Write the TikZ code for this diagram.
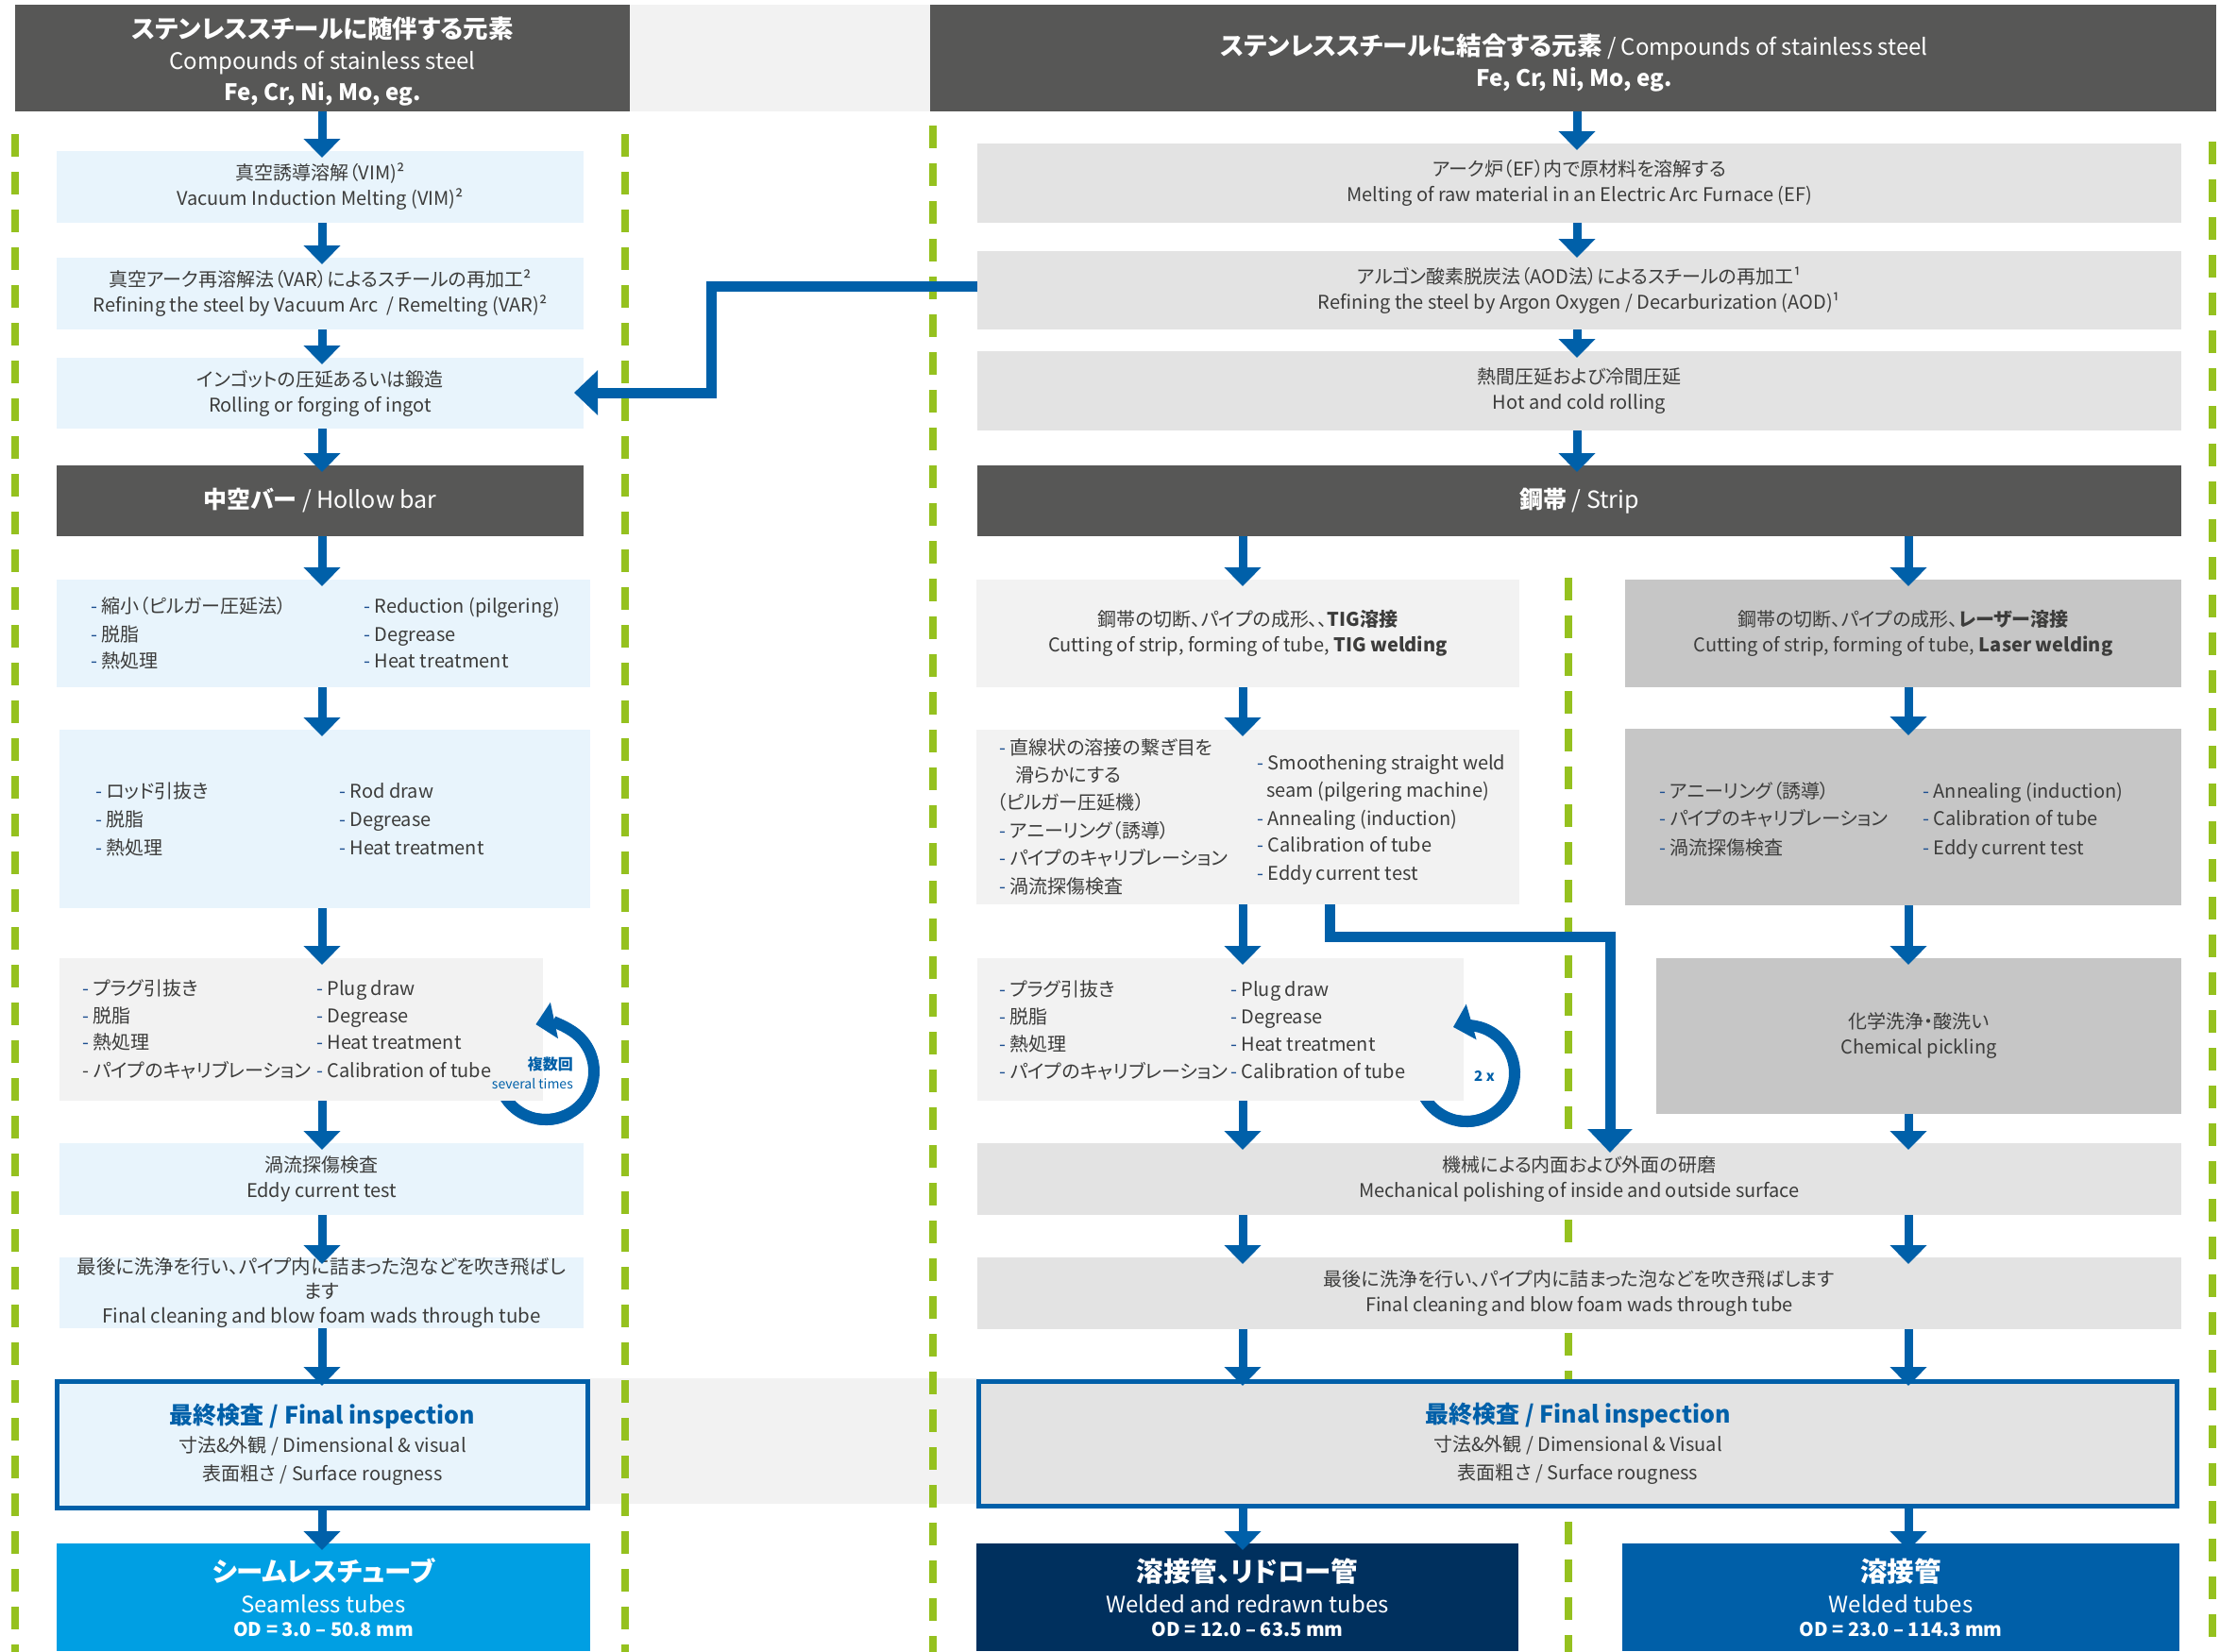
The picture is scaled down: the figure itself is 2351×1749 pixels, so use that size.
\documentclass[tikz,border=0pt]{standalone}
\usepackage{fontspec}
\setmainfont{Noto Sans CJK JP}[RawFeature=+palt]
\usetikzlibrary{arrows.meta}
\definecolor{hdr}{HTML}{575756}
\definecolor{band}{HTML}{F2F2F2}
\definecolor{lblue}{HTML}{E8F4FC}
\definecolor{gA}{HTML}{F2F2F2}
\definecolor{gB}{HTML}{E3E3E3}
\definecolor{gC}{HTML}{C6C6C6}
\definecolor{blu}{HTML}{0060A9}
\definecolor{grn}{HTML}{95C11F}
\definecolor{cyanA}{HTML}{009FE3}
\definecolor{navyA}{HTML}{00305E}
\definecolor{midA}{HTML}{005FA8}
\definecolor{txt}{HTML}{3C3C3B}
\definecolor{dshc}{HTML}{1D4F91}
\newcommand\fsz[2]{\fontsize{#1}{#2}\selectfont}
\newcommand\bdash{\textcolor{dshc}{-}\ }
\newcommand\hjp[1]{{\fsz{26.5}{33}\textbf{#1}}}
\begin{document}
\begin{tikzpicture}[x=1pt,y=-1pt,
  box/.style={inner sep=0pt, outer sep=0pt, align=center, text=txt, font=\fsz{20}{27}},
  dark/.style={box, fill=hdr, text=white, font=\fsz{25}{33}},
  htxt/.style={inner sep=0pt, align=center, text=white, font=\fsz{24}{33}},
  insp/.style={box, draw=blu, line width=5pt, outer sep=2.5pt, font=\fsz{20}{30}},
  prod/.style={box, text=white, font=\fsz{20}{25}},
  li/.style={anchor=base west, inner sep=0pt, text=txt, font=\fsz{20}{24}},
  arr/.style={draw=blu, line width=9pt, -{Triangle[width=38pt,length=20pt]}, shorten >=-7pt},
  bigarr/.style={draw=blu, line width=11pt, line join=miter, -{Triangle[width=46pt,length=25pt]}, shorten >=-10pt},
  gl/.style={draw=grn, line width=8pt, dash pattern=on 23.5pt off 16.5pt},
  loopa/.style={draw=blu, line width=12pt},
  loopb/.style={draw=blu, line width=12pt, -{Triangle[width=38pt,length=20pt]}},
]
\useasboundingbox (0,0) rectangle (2351,1749);
\fill[white] (0,0) rectangle (2351,1749);
% background bands
\fill[band] (667,5) rectangle (985,118);
\fill[band] (625,1460) rectangle (1035,1593);
% green dashed separators
\draw[gl] (16,142) -- (16,1760);
\draw[gl] (662,142) -- (662,1760);
\draw[gl] (988,133) -- (988,1760);
\draw[gl] (1661,612) -- (1661,1760);
\draw[gl] (2343,150) -- (2343,1760);
% hidden parts of loop arrows
\draw[loopa] (578,1135) ++(160:51) arc[start angle=160, end angle=60, radius=51];
\draw[loopa] (1553,1137) ++(160:51) arc[start angle=160, end angle=60, radius=51];

% ---------- left column ----------
\node[dark, minimum width=651pt, minimum height=113pt] (hdrL) at (341.5,61.5) {};
\node[htxt] (hdrLt) at (341.5,65)
  {\hjp{ステンレススチールに随伴する元素}\\Compounds of stainless steel\\\textbf{Fe, Cr, Ni, Mo, eg.}};
\node[box, fill=lblue, minimum width=558pt, minimum height=76pt] (vim) at (339,198)
  {真空誘導溶解（VIM)²\\Vacuum Induction Melting (VIM)²};
\node[box, fill=lblue, minimum width=558pt, minimum height=76pt] (var) at (339,311)
  {真空アーク再溶解法（VAR）によるスチールの再加工²\\Refining the steel by Vacuum Arc\ \ / Remelting (VAR)²};
\node[box, fill=lblue, minimum width=558pt, minimum height=75pt] (roll) at (339,416.5)
  {インゴットの圧延あるいは鍛造\\Rolling or forging of ingot};
\node[dark, minimum width=558pt, minimum height=75pt] (hollow) at (339,530.5)
  {\textbf{中空バー} / Hollow bar};
\node[box, fill=lblue, minimum width=565pt, minimum height=114pt] (red) at (342.5,671) {};
\node[box, fill=lblue, minimum width=562pt, minimum height=189pt] (rod) at (344,867.5) {};
\node[box, fill=gA, minimum width=512pt, minimum height=151pt] (plugL) at (319,1090.5) {};
\node[box, fill=lblue, minimum width=555pt, minimum height=76pt] (eddyL) at (340.5,1249)
  {渦流探傷検査\\Eddy current test};
\node[box, fill=lblue, minimum width=555pt, minimum height=75pt, font=\fsz{20.5}{26}] (cleanL) at (340.5,1369.5)
  {最後に洗浄を行い、パイプ内に詰まった泡などを吹き飛ばし\\ます\\Final cleaning and blow foam wads through tube};
\node[insp, fill=lblue, minimum width=562pt, minimum height=134pt] (inspL) at (341.5,1530.5)
  {\textcolor{blu}{\fsz{25}{30}\textbf{最終検査 / Final inspection}}\\寸法\&外観 / Dimensional \& visual\\表面粗さ / Surface rougness};
\node[prod, fill=cyanA, minimum width=565pt, minimum height=114pt] (seam) at (342.5,1692)
  {\fsz{28.5}{30}\textbf{シームレスチューブ}\\[8pt]\fsz{24}{28}Seamless tubes\\\textbf{OD = 3.0 – 50.8 mm}};

% ---------- right column ----------
\node[dark, minimum width=1362pt, minimum height=113pt] (hdrR) at (1666,61.5) {};
\node[htxt] (hdrRt) at (1667,67)
  {\hjp{ステンレススチールに結合する元素} / Compounds of stainless steel\\\textbf{Fe, Cr, Ni, Mo, eg.}};
\node[box, fill=gB, minimum width=1275pt, minimum height=84pt] (ef) at (1672.5,194)
  {アーク炉（EF）内で原材料を溶解する\\Melting of raw material in an Electric Arc Furnace (EF)};
\node[box, fill=gB, minimum width=1275pt, minimum height=83pt] (aod) at (1672.5,307.5)
  {アルゴン酸素脱炭法（AOD法）によるスチールの再加工¹\\Refining the steel by Argon Oxygen / Decarburization (AOD)¹};
\node[box, fill=gB, minimum width=1275pt, minimum height=84pt] (hot) at (1672.5,414)
  {熱間圧延および冷間圧延\\Hot and cold rolling};
\node[dark, minimum width=1275pt, minimum height=75pt] (strip) at (1672.5,530.5)
  {\textbf{鋼帯} / Strip};
\node[box, fill=gA, minimum width=575pt, minimum height=114pt] (tig) at (1321.5,671)
  {鋼帯の切断、パイプの成形、、\textbf{TIG溶接}\\Cutting of strip, forming of tube, \textbf{TIG welding}};
\node[box, fill=gC, minimum width=589pt, minimum height=114pt] (laser) at (2015.5,671)
  {鋼帯の切断、パイプの成形、\textbf{レーザー溶接}\\Cutting of strip, forming of tube, \textbf{Laser welding}};
\node[box, fill=gA, minimum width=575pt, minimum height=185pt] (smooth) at (1321.5,865.5) {};
\node[box, fill=gC, minimum width=589pt, minimum height=187pt] (anneal) at (2015.5,865.5) {};
\node[box, fill=gA, minimum width=515pt, minimum height=151pt] (plugR) at (1292.5,1090.5) {};
\node[box, fill=gC, minimum width=556pt, minimum height=165pt] (chem) at (2032,1097.5)
  {化学洗浄・酸洗い\\Chemical pickling};
\node[box, fill=gB, minimum width=1275pt, minimum height=76pt] (mech) at (1672.5,1249)
  {機械による内面および外面の研磨\\Mechanical polishing of inside and outside surface};
\node[box, fill=gB, minimum width=1275pt, minimum height=76pt] (cleanR) at (1672.5,1370)
  {最後に洗浄を行い、パイプ内に詰まった泡などを吹き飛ばします\\Final cleaning and blow foam wads through tube};
\node[insp, fill=gB, minimum width=1269pt, minimum height=132pt] (inspR) at (1671,1529.5)
  {\textcolor{blu}{\fsz{25}{30}\textbf{最終検査 / Final inspection}}\\寸法\&外観 / Dimensional \& Visual\\表面粗さ / Surface rougness};
\node[prod, fill=navyA, minimum width=574pt, minimum height=114pt] (wrd) at (1321,1692)
  {\fsz{28.5}{30}\textbf{溶接管、リドロー管}\\[8pt]\fsz{24}{28}Welded and redrawn tubes\\\textbf{OD = 12.0 – 63.5 mm}};
\node[prod, fill=midA, minimum width=590pt, minimum height=114pt] (wt) at (2013,1692)
  {\fsz{28.5}{30}\textbf{溶接管}\\[8pt]\fsz{24}{28}Welded tubes\\\textbf{OD = 23.0 – 114.3 mm}};

% ---------- list texts ----------
\node[li] (ra1) at (96,649) {\bdash 縮小（ピルガー圧延法）};
\node[li] (ra2) at (96,679) {\bdash 脱脂};
\node[li] (ra3) at (96,707) {\bdash 熱処理};
\node[li] (rb1) at (385,649) {\bdash Reduction (pilgering)};
\node[li] (rb2) at (385,679) {\bdash Degrease};
\node[li] (rb3) at (385,707) {\bdash Heat treatment};

\node[li] (da1) at (101,845) {\bdash ロッド引抜き};
\node[li] (da2) at (101,875) {\bdash 脱脂};
\node[li] (da3) at (101,905) {\bdash 熱処理};
\node[li] (db1) at (359,845) {\bdash Rod draw};
\node[li] (db2) at (359,875) {\bdash Degrease};
\node[li] (db3) at (359,905) {\bdash Heat treatment};

\node[li] (pa1) at (87,1054) {\bdash プラグ引抜き};
\node[li] (pa2) at (87,1083) {\bdash 脱脂};
\node[li] (pa3) at (87,1111) {\bdash 熱処理};
\node[li] (pa4) at (87,1141) {- パイプのキャリブレーション};
\node[li] (pb1) at (335,1054) {\bdash Plug draw};
\node[li] (pb2) at (335,1083) {\bdash Degrease};
\node[li] (pb3) at (335,1111) {\bdash Heat treatment};
\node[li] (pb4) at (335,1141) {\bdash Calibration of tube};

\node[li] (sa1) at (1058,799) {\bdash 直線状の溶接の繋ぎ目を};
\node[li] (sa2) at (1075,828) {滑らかにする};
\node[li] (sa3) at (1056,857) {（ピルガー圧延機）};
\node[li] (sa4) at (1058,887) {\bdash アニーリング（誘導）};
\node[li] (sa5) at (1058,916) {\bdash パイプのキャリブレーション};
\node[li] (sa6) at (1058,946) {\bdash 渦流探傷検査};
\node[li] (sb1) at (1331,815) {\bdash Smoothening straight weld};
\node[li] (sb2) at (1341,844) {seam (pilgering machine)};
\node[li] (sb3) at (1331,874) {\bdash Annealing (induction)};
\node[li] (sb4) at (1331,902) {\bdash Calibration of tube};
\node[li] (sb5) at (1331,932) {\bdash Eddy current test};

\node[li] (na1) at (1757,845) {\bdash アニーリング（誘導）};
\node[li] (na2) at (1757,874) {\bdash パイプのキャリブレーション};
\node[li] (na3) at (1757,905) {\bdash 渦流探傷検査};
\node[li] (nb1) at (2036,845) {\bdash Annealing (induction)};
\node[li] (nb2) at (2036,874) {\bdash Calibration of tube};
\node[li] (nb3) at (2036,905) {\bdash Eddy current test};

\node[li] (qa1) at (1058,1055) {\bdash プラグ引抜き};
\node[li] (qa2) at (1058,1084) {\bdash 脱脂};
\node[li] (qa3) at (1058,1113) {\bdash 熱処理};
\node[li] (qa4) at (1058,1142) {\bdash パイプのキャリブレーション};
\node[li] (qb1) at (1303,1055) {\bdash Plug draw};
\node[li] (qb2) at (1303,1084) {\bdash Degrease};
\node[li] (qb3) at (1303,1113) {\bdash Heat treatment};
\node[li] (qb4) at (1303,1142) {\bdash Calibration of tube};

% ---------- connectors ----------
\coordinate (cS) at (341,0);
\coordinate (cM) at (1670,0);
\coordinate (cL) at (1316,0);
\coordinate (cR) at (2021,0);
\draw[arr] (hdrL.south -| cS) -- (vim.north -| cS);
\draw[arr] (vim.south -| cS) -- (var.north -| cS);
\draw[arr] (var.south -| cS) -- (roll.north -| cS);
\draw[arr] (roll.south -| cS) -- (hollow.north -| cS);
\draw[arr] (hollow.south -| cS) -- (red.north -| cS);
\draw[arr] (red.south -| cS) -- (rod.north -| cS);
\draw[arr] (rod.south -| cS) -- (plugL.north -| cS);
\draw[arr] (plugL.south -| cS) -- (eddyL.north -| cS);
\draw[arr] (eddyL.south -| cS) -- (cleanL.north -| cS);
\draw[arr] (cleanL.south -| cS) -- (inspL.north -| cS);
\draw[arr] (inspL.south -| cS) -- (seam.north -| cS);

\draw[arr] (hdrR.south -| cM) -- (ef.north -| cM);
\draw[arr] (ef.south -| cM) -- (aod.north -| cM);
\draw[arr] (aod.south -| cM) -- (hot.north -| cM);
\draw[arr] (hot.south -| cM) -- (strip.north -| cM);

\draw[arr] (strip.south -| cL) -- (tig.north -| cL);
\draw[arr] (tig.south -| cL) -- (smooth.north -| cL);
\draw[arr] (smooth.south -| cL) -- (plugR.north -| cL);
\draw[arr] (plugR.south -| cL) -- (mech.north -| cL);
\draw[arr] (mech.south -| cL) -- (cleanR.north -| cL);
\draw[arr] (cleanR.south -| cL) -- (inspR.north -| cL);
\draw[arr] (inspR.south -| cL) -- (wrd.north -| cL);

\draw[arr] (strip.south -| cR) -- (laser.north -| cR);
\draw[arr] (laser.south -| cR) -- (anneal.north -| cR);
\draw[arr] (anneal.south -| cR) -- (chem.north -| cR);
\draw[arr] (chem.south -| cR) -- (mech.north -| cR);
\draw[arr] (mech.south -| cR) -- (cleanR.north -| cR);
\draw[arr] (cleanR.south -| cR) -- (inspR.north -| cR);
\draw[arr] (inspR.south -| cR) -- (wt.north -| cR);

\coordinate (a1) at (753,303);
\coordinate (a2) at (753,416);
\draw[bigarr] (aod.west |- a1) -- (a1) -- (a2) -- (roll.east |- a2);
\coordinate (b1) at (1408,992);
\coordinate (b2) at (1705,992);
\draw[bigarr] (smooth.south -| b1) -- (b1) -- (b2) -- (mech.north -| b2);

% loop arrows (visible parts)
\draw[loopb] (578,1135) ++(100:51) arc[start angle=100, end angle=-102, radius=51];
\draw[loopb] (1553,1137) ++(100:51) arc[start angle=100, end angle=-106, radius=51];
\node[anchor=east, inner sep=0pt, text=blu, font=\fsz{16}{18}\bfseries] (sevA) at (607,1127) {複数回};
\node[anchor=east, inner sep=0pt, text=blu, font=\fsz{14}{16}] (sevB) at (607,1148) {several times};
\node[inner sep=0pt, text=blu, font=\fsz{15}{16}\bfseries] (twox) at (1572,1140) {2 x};
\end{tikzpicture}
\end{document}
